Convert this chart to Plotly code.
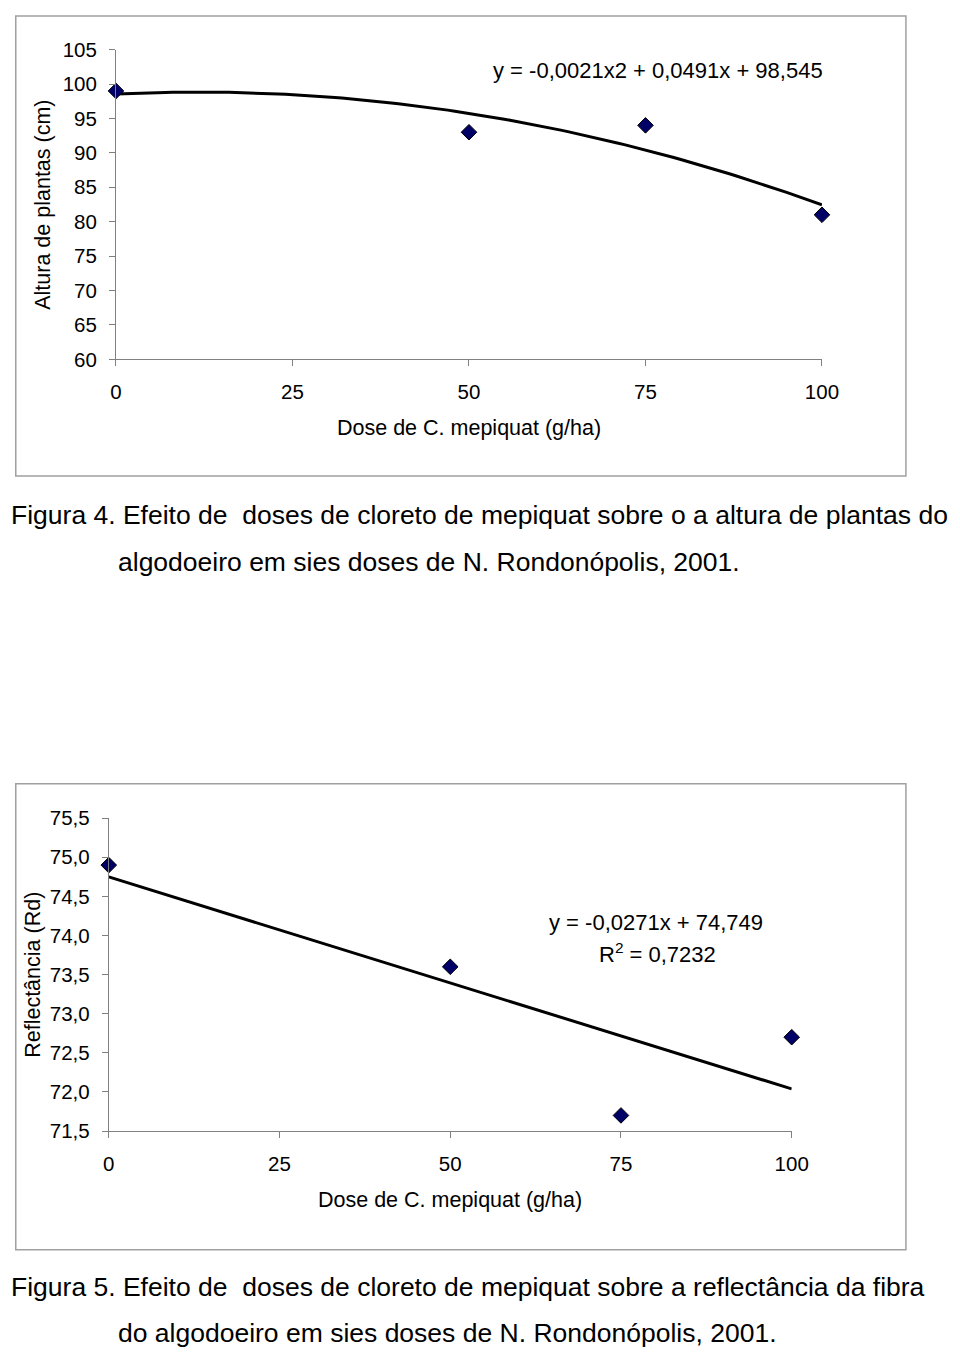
import numpy as np
import plotly.graph_objects as go

W, H = 960, 1362

# ---------------- data ----------------
dose = [0, 50, 75, 100]
altura = [99.0, 93.0, 94.0, 81.0]          # Figura 4
reflectancia = [74.9, 73.6, 71.7, 72.7]    # Figura 5

# trend-line coefficients as printed on the charts
alt_a, alt_b, alt_c = -0.0021, 0.0491, 98.545
ref_m, ref_q = -0.0271, 74.749

x_ticks = [0, 25, 50, 75, 100]
alt_ticks = [60, 65, 70, 75, 80, 85, 90, 95, 100, 105]
ref_ticks = [71.5, 72.0, 72.5, 73.0, 73.5, 74.0, 74.5, 75.0, 75.5]

eq1 = "y = -0,0021x2 + 0,0491x + 98,545"
eq2 = "y = -0,0271x + 74,749"
r2 = "R<sup>2</sup> = 0,7232"
cap4 = ["Figura 4. Efeito de\u00a0 doses de cloreto de mepiquat sobre o a altura de plantas do",
        "algodoeiro em sies doses de N. Rondonópolis, 2001."]
cap5 = ["Figura 5. Efeito de\u00a0 doses de cloreto de mepiquat sobre a reflectância da fibra",
        "do algodoeiro em sies doses de N. Rondonópolis, 2001."]
xtitle = "Dose de C. mepiquat (g/ha)"
ytitle1 = "Altura de plantas (cm)"
ytitle2 = "Reflectância (Rd)"

# ---------------- helpers ----------------
def fx(px):
    return px / W

def fy(py):
    return 1 - py / H

FONT = "Liberation Sans, Arial, sans-serif"
AX = "#808080"

xt = np.linspace(0, 100, 101)
alt_fit = alt_a * xt**2 + alt_b * xt + alt_c
ref_fit = ref_m * xt + ref_q

fig = go.Figure()

MARK = dict(symbol="diamond", size=12, color="#000066", line=dict(color="black", width=1))

fig.add_trace(go.Scatter(x=xt, y=alt_fit, mode="lines", line=dict(color="black", width=3),
                         xaxis="x", yaxis="y", cliponaxis=False, hoverinfo="skip"))
fig.add_trace(go.Scatter(x=dose, y=altura, mode="markers", xaxis="x", yaxis="y", cliponaxis=False,
                         marker=MARK))

fig.add_trace(go.Scatter(x=xt, y=ref_fit, mode="lines", line=dict(color="black", width=3),
                         xaxis="x2", yaxis="y2", cliponaxis=False, hoverinfo="skip"))
fig.add_trace(go.Scatter(x=dose, y=reflectancia, mode="markers", xaxis="x2", yaxis="y2", cliponaxis=False,
                         marker=MARK))

axis_common = dict(showline=True, linecolor=AX, linewidth=1, ticks="outside", ticklen=6,
                   tickcolor=AX, tickwidth=1, showgrid=False, zeroline=False,
                   tickfont=dict(family=FONT, size=20.5, color="black"))

fig.update_layout(
    width=W, height=H, margin=dict(l=0, r=0, t=0, b=0),
    paper_bgcolor="white", plot_bgcolor="white", showlegend=False,
    separators=",.",
    xaxis=dict(domain=[fx(112.7), fx(836)], anchor="y", range=[0, 100], tickvals=x_ticks,
               ticklabelstandoff=8, **axis_common),
    yaxis=dict(domain=[fy(353.3), fy(38.3)], anchor="x", range=[60, 105], tickvals=alt_ticks,
               ticklabelstandoff=8, **axis_common),
    xaxis2=dict(domain=[fx(105.3), fx(805)], anchor="y2", range=[0, 100], tickvals=x_ticks,
                ticklabelstandoff=8, **axis_common),
    yaxis2=dict(domain=[fy(1138.3), fy(820)], anchor="x2", range=[71.5, 75.5], tickvals=ref_ticks,
                tickformat=".1f", ticklabelstandoff=8, **axis_common),
)

shapes = []
for (y0, y1) in [(4, 472), (785, 1259)]:
    shapes.append(dict(type="rect", xref="paper", yref="paper", x0=fx(10), x1=fx(922),
                       y0=fy(y1), y1=fy(y0), line=dict(color="#a0a0a0", width=1.5)))
fig.update_layout(shapes=shapes)

ann = []
def txt(text, x, y, size=21.5, family=FONT, xanchor="center", angle=0):
    ann.append(dict(text=text, x=fx(x), y=fy(y), xref="paper", yref="paper", showarrow=False,
                    xanchor=xanchor, yanchor="middle", textangle=angle,
                    font=dict(family=family, size=size, color="black")))

txt(eq1, 668, 59, size=22)
txt(xtitle, 474.4, 423)
txt(ytitle1, 38, 196, angle=-90)
txt(eq2, 666, 926, size=22)
txt(r2, 667, 957, size=22)
txt(xtitle, 455, 1208)
txt(ytitle2, 28, 979, angle=-90)

txt(cap4[0], 3, 511.5, size=26.5, xanchor="left")
txt(cap4[1], 113, 559.5, size=26.5, xanchor="left")
txt(cap5[0], 3, 1296.5, size=26.5, xanchor="left")
txt(cap5[1], 113, 1344, size=26.5, xanchor="left")

fig.update_layout(annotations=ann)

fig.write_html("out.html",
               post_script="document.body.style.margin='0';document.body.style.overflow='hidden';")
